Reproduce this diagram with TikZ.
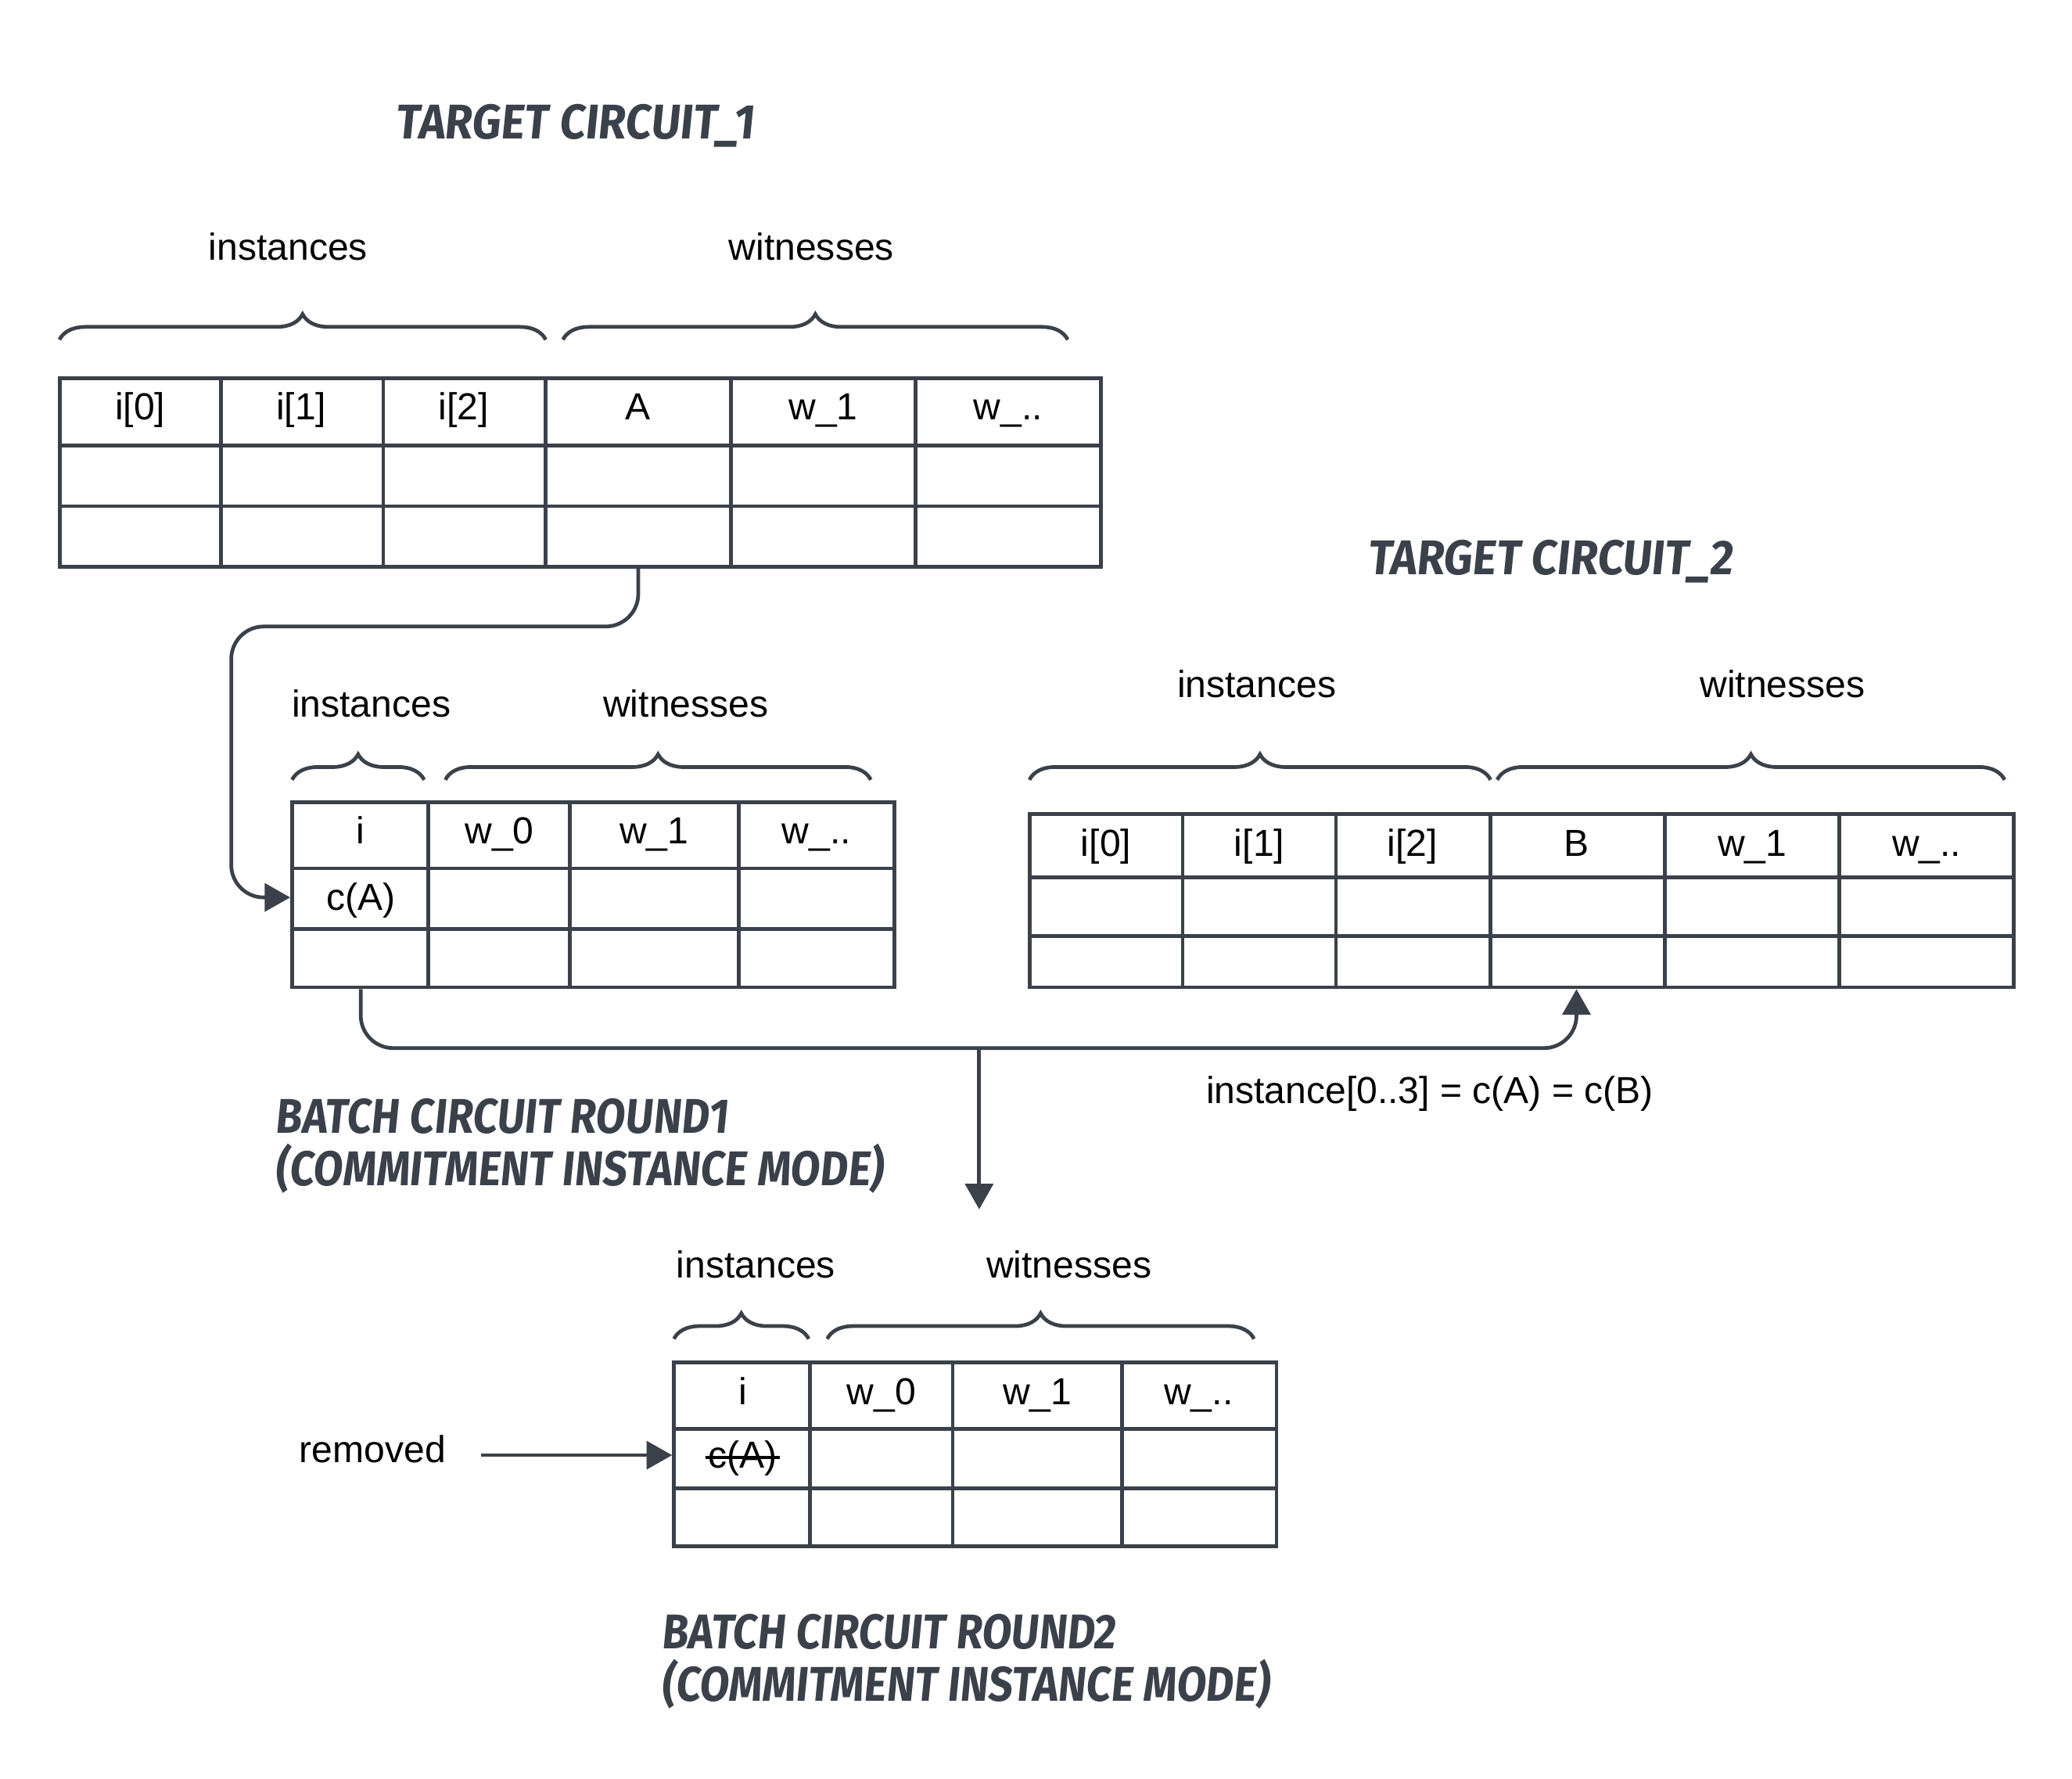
\documentclass[tikz,border=0pt]{standalone}
\usepackage{fontspec}
\setmainfont{Liberation Sans}
\newfontfamily\handfont[FakeStretch=0.92,FakeSlant=0.1]{Fira Sans}
\newfontfamily\handnarrow[FakeStretch=0.875,FakeSlant=0.1]{Fira Sans}
\usetikzlibrary{arrows.meta}
\usetikzlibrary{decorations.pathreplacing}
\usetikzlibrary{calc}
\definecolor{ink}{HTML}{3A414A}
\tikzset{> = {Triangle[length=11pt,width=12pt]}, grid/.style={draw=ink,line width=1.6pt},
	cell/.style={inner sep=1pt,text height=14pt,text depth=3pt,font=\fontsize{16.2pt}{19pt}\selectfont},
	title/.style={inner sep=0pt,text=ink,align=left,font=\handfont\bfseries\fontsize{21pt}{22.7pt}\selectfont},
	subtitle/.style={title,anchor=west,font=\handnarrow\bfseries\fontsize{21pt}{22.7pt}\selectfont},
	brc/.style={draw=ink,line width=1.6pt,decorate,decoration={brace,amplitude=11pt}},
	flow/.style={draw=ink,line width=1.6pt,->,rounded corners=14pt}}

\begin{document}
\begin{tikzpicture}[x=0.02cm,y=-0.02cm]
		\useasboundingbox (0,0) rectangle (1568,1346);
		\node[title] (ttl1) at (435,95) {TARGET CIRCUIT\_1};
		\node[cell] (lab1i) at (218,187) {instances};
		\node[cell] (lab1w) at (614,187) {witnesses};
		\draw[brc] (45,257) -- (413,257);
		\draw[brc] (426,257) -- (808,257);
		\node[grid,inner sep=0pt,minimum width=15.76cm,minimum height=2.86cm] (tab1) at (439,357.5) {};
		\foreach \x in {167,290,413,553,693} \draw[grid] (\x,286) -- (\x,429);
		\foreach \y in {337,383} \draw[grid] (45,\y) -- (833,\y);
		\node[cell] (t1c0) at (106,308) {i[0]};
		\node[cell] (t1c1) at (228,308) {i[1]};
		\node[cell] (t1c2) at (351,308) {i[2]};
		\node[cell] (t1c3) at (483,308) {A};
		\node[cell] (t1c4) at (623,308) {w\_1};
		\node[cell] (t1c5) at (763,308) {w\_..};

		\node[cell] (lab2i) at (281,533) {instances};
		\node[cell] (lab2w) at (519,533) {witnesses};
		\draw[brc] (221,590) -- (321,590);
		\draw[brc] (337,590) -- (659,590);
		\node[grid,inner sep=0pt,minimum width=9.12cm,minimum height=2.8cm] (tab2) at (449,677) {};
		\foreach \x in {324,431,559} \draw[grid] (\x,607) -- (\x,747);
		\foreach \y in {657,703} \draw[grid] (221,\y) -- (677,\y);
		\node[cell] (t2c0) at (273,629) {i};
		\node[cell] (t2c1) at (378,629) {w\_0};
		\node[cell] (t2c2) at (495,629) {w\_1};
		\node[cell] (t2c3) at (618,629) {w\_..};
		\node[cell] (t2r1) at (273,679) {c(A)};

		\node[title] (ttl2) at (1173,425) {TARGET CIRCUIT\_2};
		\node[cell] (lab3i) at (951,518) {instances};
		\node[cell] (lab3w) at (1349,518) {witnesses};
		\draw[brc] (779,590) -- (1128,590);
		\draw[brc] (1133,590) -- (1517,590);
		\node[grid,inner sep=0pt,minimum width=14.9cm,minimum height=2.62cm] (tab3) at (1151.5,681.5) {};
		\foreach \x in {895,1011,1128,1260,1392} \draw[grid] (\x,616) -- (\x,747);
		\foreach \y in {664,708} \draw[grid] (779,\y) -- (1524,\y);
		\node[cell] (t3c0) at (837,638) {i[0]};
		\node[cell] (t3c1) at (953,638) {i[1]};
		\node[cell] (t3c2) at (1069,638) {i[2]};
		\node[cell] (t3c3) at (1193,638) {B};
		\node[cell] (t3c4) at (1326,638) {w\_1};
		\node[cell] (t3c5) at (1458,638) {w\_..};

		\coordinate (bend1) at (175,474);
		\coordinate (bend2) at (741,793);
		\coordinate (drop) at (741,915);
		\draw[flow] (t1c3.center |- tab1.south) |- (bend1) |- (tab2.west |- t2r1);
		\draw[flow] (t2c0.center |- tab2.south) |- (t3c3.center |- bend2) -- (t3c3.center |- tab3.south);
		\draw[flow] (bend2) -- (drop);
		\node[cell] (eqlab) at (1082,825) {instance[0..3] = c(A) = c(B)};
		\node[subtitle] (ttl3) at (208,867) {BATCH CIRCUIT ROUND1\\(COMMITMENT INSTANCE MODE)};

		\node[cell] (lab4i) at (572,957) {instances};
		\node[cell] (lab4w) at (809,957) {witnesses};
		\draw[brc] (510,1013) -- (612,1013);
		\draw[brc] (626,1013) -- (949,1013);
		\node[grid,inner sep=0pt,minimum width=9.12cm,minimum height=2.78cm] (tab4) at (738,1100.5) {};
		\foreach \x in {613,721,849} \draw[grid] (\x,1031) -- (\x,1170);
		\foreach \y in {1081,1126} \draw[grid] (510,\y) -- (966,\y);
		\node[cell] (t4c0) at (562,1053) {i};
		\node[cell] (t4c1) at (667,1053) {w\_0};
		\node[cell] (t4c2) at (785,1053) {w\_1};
		\node[cell] (t4c3) at (907,1053) {w\_..};
		\node[cell] (t4r1) at (562,1101) {c(A)};
		\draw[line width=1.2pt] ([yshift=-1pt]t4r1.west) -- ([yshift=-1pt]t4r1.east);
		\node[cell] (rm) at (282,1097) {removed};
		\draw[flow,shorten <=14pt] (rm.east |- t4r1) -- (tab4.west |- t4r1);
		\node[subtitle] (ttl4) at (500,1257) {BATCH CIRCUIT ROUND2\\(COMMITMENT INSTANCE MODE)};
\end{tikzpicture}
\end{document}
